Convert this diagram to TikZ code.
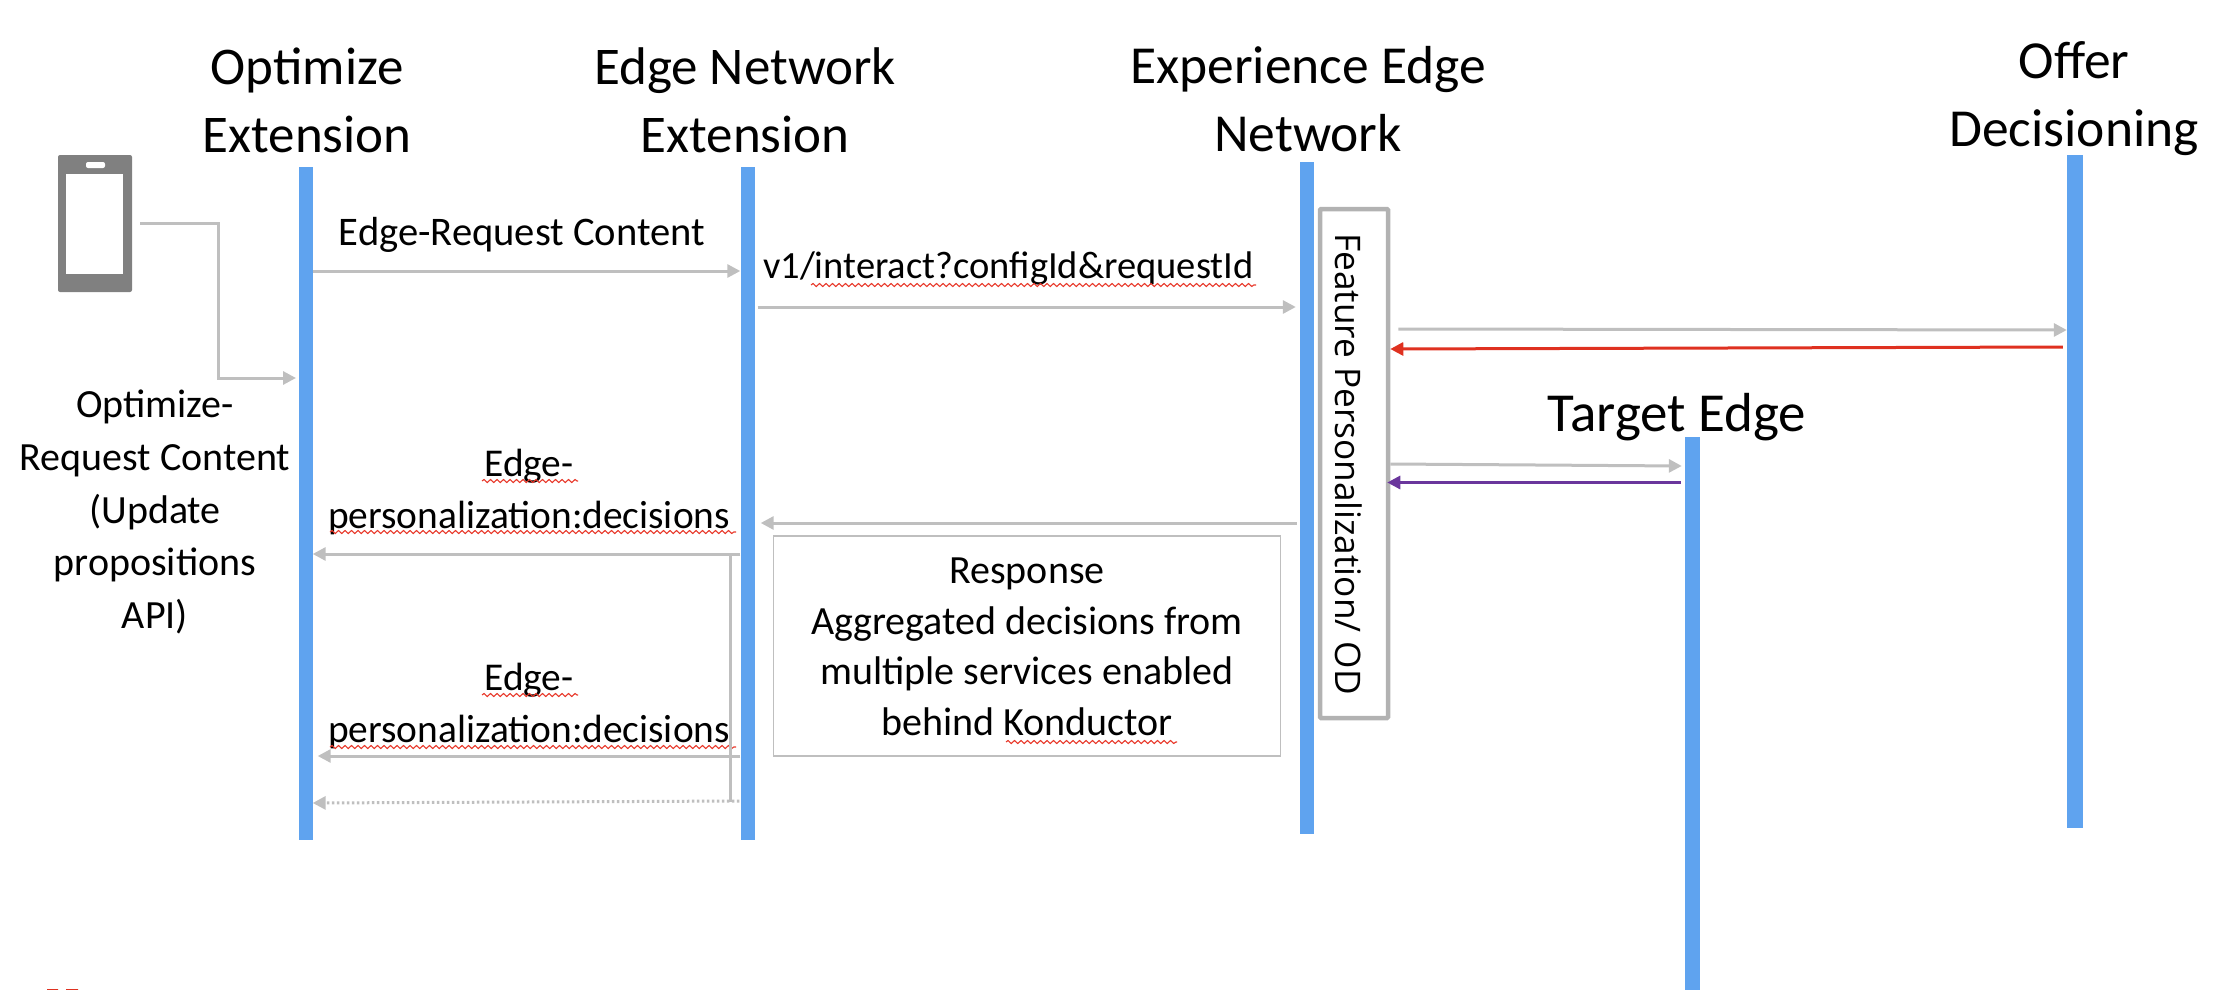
\documentclass[tikz,border=0pt]{standalone}
\usepackage{fontspec}
\setmainfont{Carlito}
\newfontfamily\rotfont{Open Sans}
\usetikzlibrary{arrows.meta, decorations.pathmorphing}
\definecolor{lifeblue}{HTML}{5FA3EF}
\definecolor{msggray}{HTML}{BFBFBF}
\definecolor{boxgray}{HTML}{B2B2B2}
\definecolor{phonegray}{HTML}{808080}
\definecolor{errred}{HTML}{E8392B}
\definecolor{backred}{HTML}{DF3120}
\definecolor{backpurple}{HTML}{6A369C}
\begin{document}
\begin{tikzpicture}[x=1pt, y=-1pt, inner sep=0pt,
    lifeline/.style={fill=lifeblue, minimum width=14},
    head/.style={align=center, font=\fontsize{53}{68}\selectfont},
    label/.style={align=center, font=\fontsize{40}{52}\selectfont},
    msg/.style={draw=msggray, line width=3, -{Triangle[length=13, width=13]}},
    squiggle/.style={draw=errred, line width=1.1, decorate, decoration={snake, segment length=6.5, amplitude=1.5}}]
        \useasboundingbox (0, 0) rectangle (2216, 990);
        \node[lifeline, minimum height=673] (optimize) at (305.5, 503.5) {}; % optimize lifeline
        \node[lifeline, minimum height=673] (edgeExt) at (747.5, 503.5) {}; % edge extension lifeline
        \node[lifeline, minimum height=672] (expEdge) at (1307, 498) {}; % experience edge lifeline
        \node[lifeline, minimum height=673, minimum width=16] (offer) at (2075, 491.5) {}; % offer lifeline
        \node[lifeline, minimum height=553, minimum width=15] (target) at (1692.5, 713.5) {}; % target lifeline
        \node[head] (optimizeHead) at (307, 100) {Optimize\\Extension};
        \node[head] (edgeExtHead) at (745, 100) {Edge Network\\Extension};
        \node[head, font=\fontsize{53.5}{68}\selectfont] (expEdgeHead) at (1308, 99) {Experience Edge\\Network};
        \node[head, font=\fontsize{53.5}{68}\selectfont] (offerHead) at (2074, 99) {Offer\\Decisioning};
        \node[head, font=\fontsize{55}{68}\selectfont] (targetHead) at (1677, 417) {Target Edge};
        \node[fill=phonegray, rounded corners=2, minimum width=74, minimum height=137] (phone) at (95, 223.5) {}; % phone body
        \node[fill=white, minimum width=57, minimum height=100] (screen) at (94.5, 224) {}; % phone screen
        \node[fill=white, rounded corners=2, minimum width=19, minimum height=6] (speaker) at (95.5, 165) {}; % phone speaker
        \node[draw=msggray, line width=1.5, minimum width=507, minimum height=220] (response) at (1027, 646) {}; % response box
        \node[label, font=\fontsize{40}{50.5}\selectfont] at (1027, 647) (responseText) {Response\\Aggregated decisions from\\multiple services enabled\\behind Konductor};
        \node[draw=boxgray, line width=4.5, rounded corners=1, minimum width=68, minimum height=509] (feature) at (1354, 463.5) {}; % feature box
        \node[rotate=-90, font=\rotfont\fontsize{35.2}{40}\selectfont] (featureText) at (1349, 464) {Feature Personalization/ OD};
        \coordinate (phoneOut) at ([xshift=8]phone.east); % free end at the phone
        \coordinate (phoneIn) at (296, 378); % free end before optimize lifeline
        \draw[msg] (phoneOut) -- ++(78, 0) |- (phoneIn); % update propositions
        \node[label, font=\fontsize{40}{52.7}\selectfont] (updateText) at (155, 512) {Optimize-\\Request Content\\(Update\\propositions\\API)};
        \draw[msg] (optimize.east |- 0, 271) -- (edgeExt.west |- 0, 271); % edge request
        \node[label, font=\fontsize{40.6}{52}\selectfont] (requestText) at (522, 235) {Edge-Request Content};
        \draw[msg] ([xshift=3]edgeExt.east |- 0, 307) -- ([xshift=-4]expEdge.west |- 0, 307); % interact
        \node[label, anchor=base west, font=\fontsize{38.5}{52}\selectfont] (interactText) at (763, 278) {v1/interact?configId\&requestId};
        \draw[squiggle] (811, 285) -- (1256, 285);
        \draw[msg] ([xshift=8]feature.east |- 0, 329) -- (offer.west |- 0, 330); % to offer
        \draw[msg, draw=backred] ([xshift=-4]offer.west |- 0, 347) -- ([xshift=0]feature.east |- 0, 349); % back from offer
        \draw[msg] (feature.east |- 0, 464) -- ([xshift=-3]target.west |- 0, 466); % to target
        \draw[msg, draw=backpurple] ([xshift=-4]target.west |- 0, 482.5) -- ([xshift=-3]feature.east |- 0, 482.5); % back from target
        \draw[msg] ([xshift=-3]expEdge.west |- 0, 523) -- ([xshift=6]edgeExt.east |- 0, 523); % response
        \node[label, font=\fontsize{39.4}{52}\selectfont] (firstText) at (529, 492) {Edge-\\personalization:decisions};
        \draw[squiggle] (482, 481) -- (578, 481);
        \draw[squiggle] (330, 532) -- (736, 532);
        \draw[msg] (edgeExt.west |- 0, 554) -- (optimize.east |- 0, 554); % first decisions
        \node[label, font=\fontsize{39.4}{52}\selectfont] (secondText) at (529, 706) {Edge-\\personalization:decisions};
        \draw[squiggle] (482, 695) -- (578, 695);
        \draw[squiggle] (330, 747) -- (736, 747);
        \draw[msg] (edgeExt.west |- 0, 756) -- ([xshift=5]optimize.east |- 0, 756); % second decisions
        \draw[draw=msggray, line width=3] ([xshift=-10]edgeExt.west |- 0, 556) -- ([xshift=-10]edgeExt.west |- 0, 802); % loop down
        \draw[msg, dash pattern=on 2.5pt off 2.5pt] ([xshift=-1]edgeExt.west |- 0, 801) -- (optimize.east |- 0, 803); % cached decisions
        \draw[squiggle] (1006, 742) -- (1177, 742);
        \fill[backred] (47, 989) rectangle (58, 990) (66, 989) rectangle (78, 990); % cut off mark
    \end{tikzpicture}
\end{document}
